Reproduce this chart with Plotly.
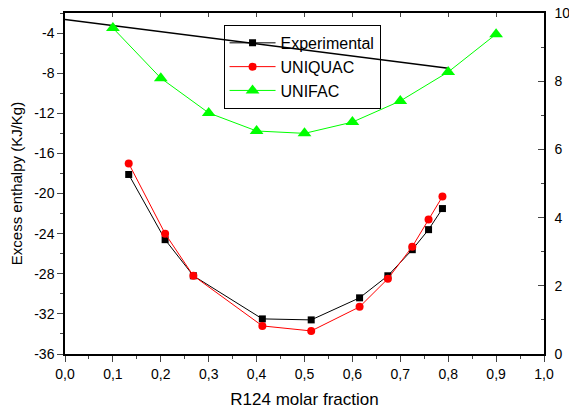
import plotly.graph_objects as go

x_exp = [0.133, 0.209, 0.268, 0.412, 0.514, 0.615, 0.674, 0.725, 0.759, 0.788]
y_exp = [-18.1, -24.6, -28.2, -32.5, -32.6, -30.4, -28.2, -25.6, -23.6, -21.5]
y_uniquac = [-17.0, -24.0, -28.2, -33.2, -33.7, -31.3, -28.5, -25.3, -22.6, -20.3]
x_unifac = [0.1, 0.2, 0.3, 0.4, 0.5, 0.6, 0.7, 0.8, 0.9]
y_unifac = [9.56, 8.09, 7.07, 6.54, 6.47, 6.80, 7.42, 8.27, 9.38]
x_line = [0.0, 0.8]
y_line = [-2.65, -7.5]

left_ticks = [-4, -8, -12, -16, -20, -24, -28, -32, -36]
right_ticks = [0, 2, 4, 6, 8, 10]
x_ticks = [0.0, 0.1, 0.2, 0.3, 0.4, 0.5, 0.6, 0.7, 0.8, 0.9, 1.0]

font = "Liberation Sans, Arial, sans-serif"

fig = go.Figure()
fig.add_trace(go.Scatter(x=x_line, y=y_line, mode="lines", line=dict(color="black", width=1.5),
                         showlegend=False, hoverinfo="skip"))
fig.add_trace(go.Scatter(x=x_exp, y=y_exp, mode="lines+markers", name="Experimental",
                         line=dict(color="black", width=1),
                         marker=dict(symbol="square", size=7, color="black")))
fig.add_trace(go.Scatter(x=x_exp, y=y_uniquac, mode="lines+markers", name="UNIQUAC",
                         line=dict(color="red", width=1),
                         marker=dict(symbol="circle", size=8, color="red")))
fig.add_trace(go.Scatter(x=x_unifac, y=y_unifac, mode="lines+markers", name="UNIFAC",
                         line=dict(color="#00ff00", width=1),
                         marker=dict(symbol="triangle-up", size=12, color="#00ff00"),
                         yaxis="y2"))
fig.add_trace(go.Scatter(x=[0], y=[-40], xaxis="x2", mode="markers", showlegend=False,
                         marker=dict(opacity=0), hoverinfo="skip"))

fig.update_layout(
    width=569, height=412,
    margin=dict(l=65, r=25, t=13, b=58),
    paper_bgcolor="white", plot_bgcolor="white",
    font=dict(family=font, size=14, color="black"),
    separators=", ",
    showlegend=True,
    legend=dict(x=0.331, y=0.965, xanchor="left", yanchor="top",
                bordercolor="black", borderwidth=1, bgcolor="rgba(0,0,0,0)",
                font=dict(size=16), tracegroupgap=0, itemwidth=46),
    xaxis=dict(range=[0, 1], tickvals=x_ticks, ticktext=[f"{v:.1f}".replace(".", ",") for v in x_ticks],
               ticks="outside", ticklen=6, tickwidth=1, showline=True, linecolor="black", linewidth=1.5,
               showgrid=False, zeroline=False, automargin=False,
               minor=dict(tickvals=[v + 0.05 for v in x_ticks[:-1]], ticks="outside", ticklen=3, showgrid=False),
               title=dict(text="R124 molar fraction", font=dict(size=17), standoff=13)),
    xaxis2=dict(range=[0, 1], overlaying="x", side="top", tickvals=x_ticks, showticklabels=False,
                ticks="inside", ticklen=4, showline=True, linecolor="black", linewidth=1.5,
                showgrid=False, zeroline=False, automargin=False),
    yaxis=dict(range=[-36, -2], tickvals=left_ticks, ticktext=[str(v) for v in left_ticks],
               ticks="outside", ticklen=6, tickwidth=1, showline=True, linecolor="black", linewidth=1.5,
               showgrid=False, zeroline=False, automargin=False,
               minor=dict(tickvals=[v - 2 for v in left_ticks[:-1]] + [-2], ticks="outside", ticklen=3, showgrid=False),
               title=dict(text="Excess enthalpy (KJ/Kg)", font=dict(size=15), standoff=8)),
    yaxis2=dict(range=[0, 10], overlaying="y", side="right", tickvals=right_ticks,
                ticks="inside", ticklen=6, tickwidth=1, showline=True, linecolor="black", linewidth=1.5,
                showgrid=False, zeroline=False, automargin=False, ticklabelstandoff=6,
                minor=dict(tickvals=[1, 3, 5, 7, 9], ticks="inside", ticklen=3, showgrid=False)),
)

fig.write_html("out.html")
